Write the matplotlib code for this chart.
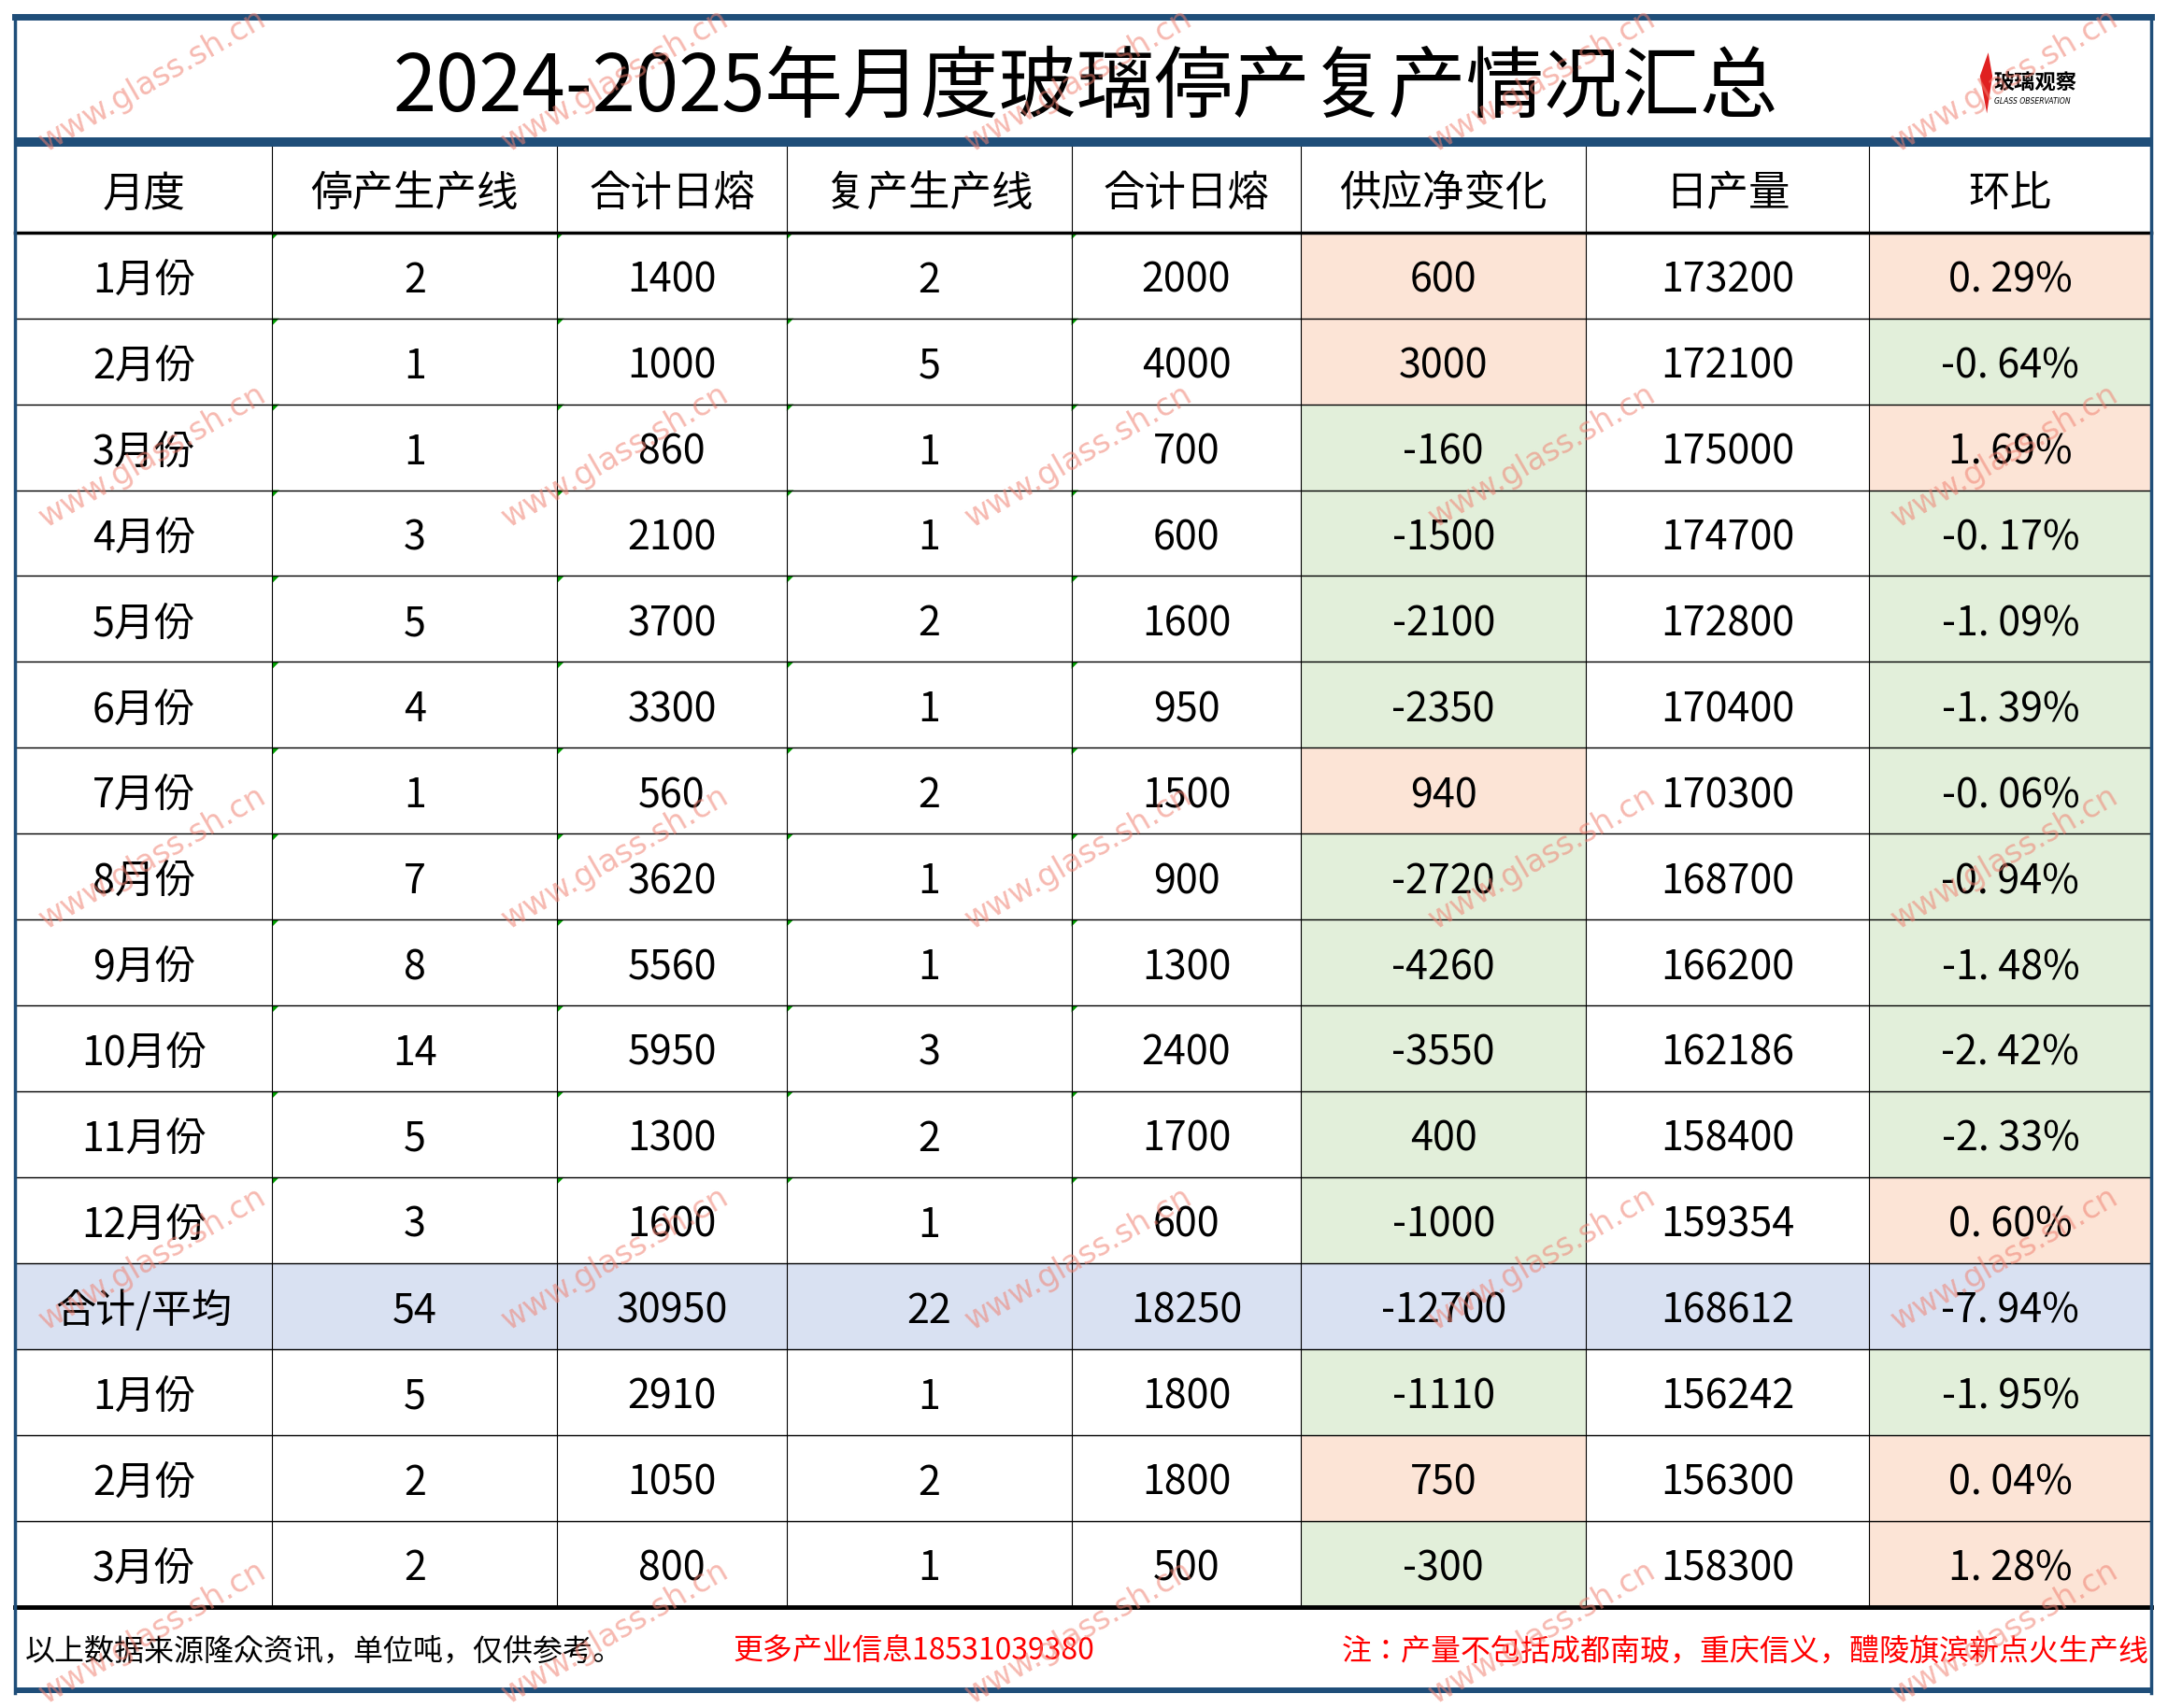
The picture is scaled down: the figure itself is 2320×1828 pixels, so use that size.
import matplotlib
matplotlib.use("Agg")
import matplotlib.pyplot as plt
from matplotlib.patches import Rectangle, Polygon
from matplotlib import font_manager

title = "2024-2025年月度玻璃停产复产情况汇总"
headers = ["月度", "停产生产线", "合计日熔", "复产生产线", "合计日熔", "供应净变化", "日产量", "环比"]
months = ["1月份", "2月份", "3月份", "4月份", "5月份", "6月份", "7月份", "8月份", "9月份", "10月份",
          "11月份", "12月份", "合计/平均", "1月份", "2月份", "3月份"]
stop_lines = [2, 1, 1, 3, 5, 4, 1, 7, 8, 14, 5, 3, 54, 5, 2, 2]
stop_melt = [1400, 1000, 860, 2100, 3700, 3300, 560, 3620, 5560, 5950, 1300, 1600, 30950, 2910, 1050, 800]
resume_lines = [2, 5, 1, 1, 2, 1, 2, 1, 1, 3, 2, 1, 22, 1, 2, 1]
resume_melt = [2000, 4000, 700, 600, 1600, 950, 1500, 900, 1300, 2400, 1700, 600, 18250, 1800, 1800, 500]
net_change = [600, 3000, -160, -1500, -2100, -2350, 940, -2720, -4260, -3550, 400, -1000, -12700, -1110, 750, -300]
daily_output = [173200, 172100, 175000, 174700, 172800, 170400, 170300, 168700, 166200, 162186, 158400,
                159354, 168612, 156242, 156300, 158300]
mom = ["0. 29%", "-0. 64%", "1. 69%", "-0. 17%", "-1. 09%", "-1. 39%", "-0. 06%", "-0. 94%", "-1. 48%",
       "-2. 42%", "-2. 33%", "0. 60%", "-7. 94%", "-1. 95%", "0. 04%", "1. 28%"]
net_color = ["p", "p", "g", "g", "g", "g", "p", "g", "g", "g", "g", "g", "s", "g", "p", "g"]
mom_color = ["p", "g", "p", "g", "g", "g", "g", "g", "g", "g", "g", "p", "s", "g", "p", "p"]
footer_black = "以上数据来源隆众资讯，单位吨，仅供参考。"
footer_red1 = "更多产业信息18531039380"
footer_red2 = "注：产量不包括成都南玻，重庆信义，醴陵旗滨新点火生产线"

names = {f.name for f in font_manager.fontManager.ttflist}
CJK = next((n for n in ["Noto Sans CJK SC", "Noto Sans CJK JP", "Noto Sans CJK TC", "Noto Sans SC",
                        "Noto Sans CJK KR"] if n in names), None)
if CJK is None:
    CJK = next((f.name for f in font_manager.fontManager.ttflist if "CJK" in f.name), "DejaVu Sans")
FONT = [CJK, "DejaVu Sans"]

COLS = {"p": "#FCE4D6", "g": "#E2EFDA", "s": "#D9E1F2"}
BLUE = "#1F4E79"

fig = plt.figure(figsize=(23.2, 18.28), dpi=100)
ax = fig.add_axes([0, 0, 1, 1])
ax.set_xlim(0, 1568)
ax.set_ylim(1235, 0)
ax.axis("off")

xs = [11, 197, 403, 569, 775, 941, 1147, 1352, 1556]
top_hdr, row_h = 106, 62.1
n = len(months)
y_end = top_hdr + row_h * (n + 1)

for i in range(n):
    y0 = top_hdr + row_h * (i + 1)
    if months[i] == "合计/平均":
        ax.add_patch(Rectangle((xs[0], y0), xs[-1] - xs[0], row_h, color=COLS["s"], lw=0))
    else:
        ax.add_patch(Rectangle((xs[5], y0), xs[6] - xs[5], row_h, color=COLS[net_color[i]], lw=0))
        ax.add_patch(Rectangle((xs[7], y0), xs[8] - xs[7], row_h, color=COLS[mom_color[i]], lw=0))
    if i < 12:
        for c in range(1, 5):
            ax.add_patch(Polygon([(xs[c], y0), (xs[c] + 5, y0), (xs[c], y0 + 5)], color="#00A000", lw=0))

for x in xs[1:-1]:
    ax.plot([x, x], [top_hdr, y_end], color="black", lw=0.8)
for i in range(1, n + 1):
    y = top_hdr + row_h * i
    ax.plot([xs[0], xs[-1]], [y, y], color="black", lw=2.5 if i == 1 else 1.0)
ax.plot([xs[0], xs[-1]], [y_end, y_end], color="black", lw=3.5)
ax.plot([xs[0], xs[-1]], [12, 12], color=BLUE, lw=5)
ax.add_patch(Rectangle((xs[0], 99), xs[-1] - xs[0], 7, color=BLUE, lw=0))
ax.add_patch(Rectangle((xs[0], 1220), xs[-1] - xs[0], 4, color=BLUE, lw=0))
ax.plot([xs[0], xs[0]], [12, 1224], color=BLUE, lw=2.5)
ax.plot([xs[-1], xs[-1]], [12, 1224], color=BLUE, lw=2.5)

ax.text(785, 64, title, fontsize=60, family=FONT, ha="center", va="center")
ax.add_patch(Polygon([(1432, 55), (1438, 38), (1441, 55), (1437, 82)], color="#E02020", lw=0))
ax.text(1442, 60, "玻璃观察", fontsize=16, family=FONT, weight="bold", ha="left", va="center")
ax.text(1442, 73, "GLASS OBSERVATION", fontsize=5.5, family="DejaVu Sans", style="italic", ha="left", va="center")

for c, h in enumerate(headers):
    ax.text((xs[c] + xs[c + 1]) / 2, top_hdr + row_h / 2 + 3, h, fontsize=32, family=FONT,
            ha="center", va="center")

cols_data = [months, stop_lines, stop_melt, resume_lines, resume_melt, net_change, daily_output, mom]
for i in range(n):
    yc = top_hdr + row_h * (i + 1.5) + 4
    for c, col in enumerate(cols_data):
        ax.text((xs[c] + xs[c + 1]) / 2, yc, str(col[i]), fontsize=31, family=FONT, ha="center", va="center")

fy = 1194
ax.text(18, fy, footer_black, fontsize=23, family=FONT, ha="left", va="center")
ax.text(530, fy, footer_red1, fontsize=23, family=FONT, color="#FF0000", ha="left", va="center")
ax.text(1554, fy, footer_red2, fontsize=23, family=FONT, color="#FF0000", ha="right", va="center")

for wx in [110, 445, 780, 1115, 1450]:
    for wy in [58, 330, 620, 910, 1180]:
        ax.text(wx, wy, "www.glass.sh.cn", fontsize=24, family="DejaVu Sans", color="#F08070",
                alpha=0.55, rotation=30, ha="center", va="center")

fig.savefig("out.png", dpi=100)
